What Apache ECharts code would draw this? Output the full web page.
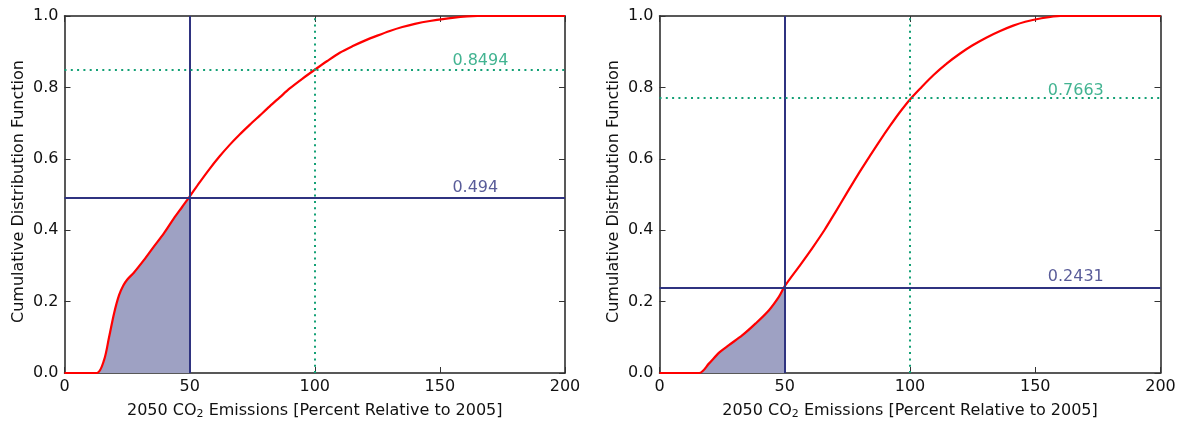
<!DOCTYPE html>
<html>
<head>
<meta charset="utf-8">
<script src="https://cdn.jsdelivr.net/npm/echarts@6/dist/echarts.min.js"></script>
<style>
html,body{margin:0;padding:0;background:#fff;}
#c{width:1185px;height:425px;}
</style>
</head>
<body>
<div id="c"></div>
<script>
// ---- data ----
const leftX = [0, 12.9, 15.8, 17.8, 19.8, 21.8, 23.5, 25.1, 27.7, 31.7, 35.7, 39.7, 43.7, 47, 50, 54, 58, 62, 66, 70, 74, 78, 82, 86, 90, 95, 100, 105, 110, 115, 120, 125, 130, 135, 140, 146, 155, 165, 200];
const leftY = [0, 0, 0.036, 0.10, 0.167, 0.218, 0.245, 0.262, 0.281, 0.316, 0.354, 0.391, 0.433, 0.465, 0.494, 0.534, 0.572, 0.607, 0.639, 0.668, 0.695, 0.721, 0.747, 0.772, 0.797, 0.824, 0.8494, 0.874, 0.897, 0.915, 0.931, 0.945, 0.958, 0.969, 0.978, 0.986, 0.995, 1.0, 1.0];
const rightX = [0, 15.8, 19.8, 23.8, 27.7, 33.1, 38.4, 43.7, 47.7, 50, 55.7, 61, 66, 70, 74.7, 79, 84, 88, 92, 96, 100, 104.5, 109.3, 114.5, 120, 125, 130.6, 136, 141.2, 146, 152, 160, 200];
const rightY = [0, 0, 0.027, 0.057, 0.078, 0.106, 0.139, 0.176, 0.214, 0.2431, 0.298, 0.350, 0.402, 0.448, 0.503, 0.553, 0.608, 0.651, 0.692, 0.731, 0.7663, 0.80, 0.834, 0.866, 0.895, 0.918, 0.940, 0.958, 0.973, 0.984, 0.993, 1.0, 1.0];
const thresholdX = [50, 100];           // solid navy, dotted green verticals
const leftLevels = [0.494, 0.8494];     // CDF at 50 and at 100
const rightLevels = [0.2431, 0.7663];
const leftLabels = ['0.494', '0.8494'];
const rightLabels = ['0.2431', '0.7663'];
const labelX = 155;
const xTicks = {min: 0, max: 200, interval: 50};
const yTicks = {min: 0, max: 1, interval: 0.2};

// ---- styles ----
const FONT = 'DejaVu Sans';
const FS = 16;
const RED = '#ff0000';
const NAVY = '#2f3380';
const GREEN = '#13a075';
const FILL = '#9ea1c3';

const chart = echarts.init(document.getElementById('c'), null, {renderer: 'canvas'});

const grids = [
  {left: 64.5, right: 620, top: 16, bottom: 52},
  {left: 659.5, right: 24.5, top: 16, bottom: 52}
];

function zip(xs, ys) { return xs.map((x, i) => [x, ys[i]]); }

const xAxes = [], yAxes = [], series = [];
const axisLineStyle = {show: true, onZero: false, lineStyle: {color: '#222', width: 1.5}};
const tickStyle = {show: true, inside: true, length: 6, lineStyle: {color: '#333', width: 1}};

[0, 1].forEach(g => {
  xAxes.push({
    type: 'value', gridIndex: g, position: 'bottom', ...xTicks,
    axisLine: axisLineStyle, axisTick: tickStyle, splitLine: {show: false},
    axisLabel: {fontFamily: FONT, fontSize: FS, color: '#111', margin: 6},
    name: '2050 CO{sub|2} Emissions [Percent Relative to 2005]',
    nameLocation: 'middle', nameGap: 28,
    nameTextStyle: {fontFamily: FONT, fontSize: FS, color: '#111',
      rich: {sub: {fontFamily: FONT, fontSize: 11, color: '#111', padding: [8, 0, 0, 0]}}}
  });
  xAxes.push({
    type: 'value', gridIndex: g, position: 'top', ...xTicks,
    axisLine: axisLineStyle, axisTick: tickStyle, splitLine: {show: false},
    axisLabel: {show: false}
  });
  yAxes.push({
    type: 'value', gridIndex: g, position: 'left', ...yTicks,
    axisLine: axisLineStyle, axisTick: tickStyle, splitLine: {show: false},
    axisLabel: {fontFamily: FONT, fontSize: FS, color: '#111', margin: 6,
      formatter: v => v.toFixed(1)},
    name: 'Cumulative Distribution Function',
    nameLocation: 'middle', nameGap: 38, nameRotate: 90,
    nameTextStyle: {fontFamily: FONT, fontSize: FS, color: '#111', padding: [0, 0, 0, 6]}
  });
  yAxes.push({
    type: 'value', gridIndex: g, position: 'right', ...yTicks,
    axisLine: axisLineStyle, axisTick: tickStyle, splitLine: {show: false},
    axisLabel: {show: false}
  });
});

function addPanel(g, xs, ys, levels, labels) {
  const xi = g * 2, yi = g * 2;
  const pts = zip(xs, ys);
  // shaded area up to x = 50
  const fillPts = pts.filter(p => p[0] <= thresholdX[0]);
  series.push({
    type: 'line', xAxisIndex: xi, yAxisIndex: yi, data: fillPts,
    showSymbol: false, smooth: 0.3, lineStyle: {width: 0},
    areaStyle: {color: FILL, opacity: 1}, z: 1, silent: true
  });
  // threshold lines
  series.push({
    type: 'line', xAxisIndex: xi, yAxisIndex: yi, data: [],
    markLine: {
      silent: true, symbol: 'none', label: {show: false},
      data: [
        {xAxis: thresholdX[0], lineStyle: {color: NAVY, width: 2, type: 'solid'}},
        {yAxis: levels[0], lineStyle: {color: NAVY, width: 2, type: 'solid'}},
        {xAxis: thresholdX[1], lineStyle: {color: GREEN, width: 2, type: [2, 4.3]}},
        {yAxis: levels[1], lineStyle: {color: GREEN, width: 2, type: [2, 4.3]}}
      ]
    }, z: 2
  });
  // CDF curve
  series.push({
    type: 'line', xAxisIndex: xi, yAxisIndex: yi, data: pts,
    showSymbol: false, smooth: 0.3, lineStyle: {color: RED, width: 2.2}, z: 3, silent: true
  });
  // value labels
  [0, 1].forEach(k => {
    series.push({
      type: 'scatter', xAxisIndex: xi, yAxisIndex: yi,
      data: [[labelX, levels[k]]], symbolSize: 0, silent: true, z: 4,
      label: {show: true, position: [0, 0], align: 'left', verticalAlign: 'bottom',
        offset: [0, -1], formatter: labels[k], fontFamily: FONT, fontSize: FS,
        color: k === 0 ? NAVY : GREEN}
    });
  });
}

addPanel(0, leftX, leftY, leftLevels, leftLabels);
addPanel(1, rightX, rightY, rightLevels, rightLabels);

chart.setOption({
  animation: false,
  backgroundColor: '#fff',
  grid: grids,
  xAxis: xAxes,
  yAxis: yAxes,
  series: series
});
</script>
</body>
</html>
